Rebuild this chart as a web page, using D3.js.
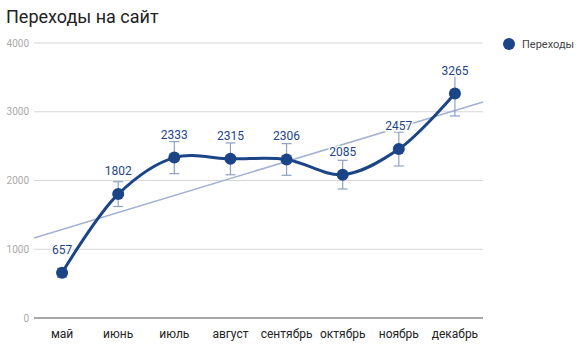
<!DOCTYPE html>
<html><head><meta charset="utf-8">
<script src="https://cdn.jsdelivr.net/npm/d3@7"></script>
<style>body{margin:0;background:#fff}svg{display:block;font-family:Roboto,Arial,sans-serif}</style>
</head><body>
<svg id="c" width="581" height="363"></svg>
<script>
const categories = ["май","июнь","июль","август","сентябрь","октябрь","ноябрь","декабрь"];
const values = [657,1802,2333,2315,2306,2085,2457,3265];
const yTicks = [0,1000,2000,3000,4000];
const seriesName = "Переходы";
const title = "Переходы на сайт";
const errorFrac = 0.1;

const svg = d3.select("#c");
const L = 34, R = 483, T = 43, B = 318;
const x = d3.scaleBand().domain(categories).range([L, R]);
const xc = d => x(d) + x.bandwidth()/2;
const y = d3.scaleLinear().domain([0,4000]).range([B, T]);

svg.append("text").attr("x",6).attr("y",23).attr("font-size",18).attr("fill","#222").text(title);

// grid
svg.append("g").selectAll("line").data(yTicks.filter(d=>d>0)).join("line")
  .attr("x1",L).attr("x2",R).attr("y1",d=>y(d)).attr("y2",d=>y(d))
  .attr("stroke","#d6d6d6").attr("stroke-width",1);
svg.append("g").selectAll("text").data(yTicks).join("text")
  .attr("x",29).attr("y",d=>y(d)+3.5).attr("text-anchor","end")
  .attr("font-size",10).attr("fill","#aaa").text(d=>d);
svg.append("line").attr("x1",L).attr("x2",R).attr("y1",B).attr("y2",B)
  .attr("stroke","#888").attr("stroke-width",1.5);
svg.append("g").selectAll("text").data(categories).join("text")
  .attr("x",d=>xc(d)).attr("y",338).attr("text-anchor","middle")
  .attr("font-size",12).attr("fill","#222").text(d=>d);

// trendline (least squares)
const n = values.length, idx = d3.range(n);
const mx = d3.mean(idx), my = d3.mean(values);
const slope = d3.sum(idx, i => (i-mx)*(values[i]-my)) / d3.sum(idx, i => (i-mx)**2);
const icpt = my - slope*mx;
const step = x.step();
const xi = i => xc(categories[0]) + i*step;
const t0 = -0.5, t1 = n - 0.5;
svg.append("line").attr("x1",xi(t0)).attr("x2",xi(t1))
  .attr("y1",y(icpt+slope*t0)).attr("y2",y(icpt+slope*t1))
  .attr("stroke","#a2b2d0").attr("stroke-width",1.6);

// error bars
const eb = svg.append("g").attr("stroke","#8ea1c6").attr("stroke-width",1.2);
categories.forEach((c,i)=>{
  const v = values[i], lo = y(v*(1-errorFrac)), hi = y(v*(1+errorFrac)), cx = xc(c);
  eb.append("line").attr("x1",cx).attr("x2",cx).attr("y1",lo).attr("y2",hi);
  eb.append("line").attr("x1",cx-5).attr("x2",cx+5).attr("y1",lo).attr("y2",lo);
  eb.append("line").attr("x1",cx-5).attr("x2",cx+5).attr("y1",hi).attr("y2",hi);
});

// line
const line = d3.line().x((d,i)=>xc(categories[i])).y(d=>y(d)).curve(d3.curveCatmullRom.alpha(0.5));
svg.append("path").attr("d",line(values)).attr("fill","none")
  .attr("stroke","#1c4587").attr("stroke-width",3);
svg.append("g").selectAll("circle").data(values).join("circle")
  .attr("cx",(d,i)=>xc(categories[i])).attr("cy",d=>y(d)).attr("r",6).attr("fill","#1c4587");

// labels
svg.append("g").selectAll("text").data(values).join("text")
  .attr("x",(d,i)=>xc(categories[i])).attr("y",d=>y(d)-19).attr("text-anchor","middle")
  .attr("font-size",12).attr("fill","#1c4587")
  .attr("stroke","#fff").attr("stroke-width",3).attr("paint-order","stroke")
  .text(d=>d);

// legend
svg.append("circle").attr("cx",509).attr("cy",44).attr("r",6).attr("fill","#1c4587");
svg.append("text").attr("x",522).attr("y",48).attr("font-size",11).attr("fill","#444").text(seriesName);
</script>
</body></html>
